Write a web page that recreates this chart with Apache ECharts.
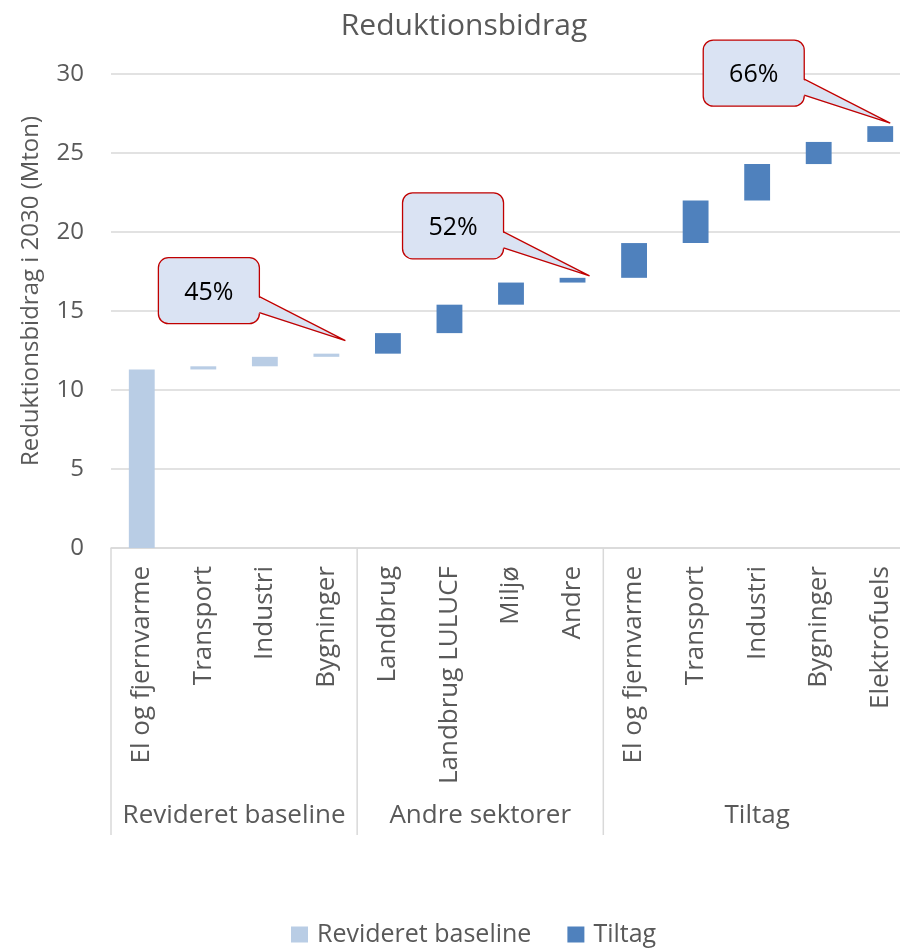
<!DOCTYPE html>
<html>
<head>
<meta charset="utf-8">
<script src="https://cdn.jsdelivr.net/npm/echarts@6/dist/echarts.min.js"></script>
<style>
  html, body { margin: 0; padding: 0; background: #fff; }
  #chart { width: 900px; height: 948px; }
</style>
</head>
<body>
<div id="chart"></div>
<script>
// Waterfall of reduction contributions in 2030 (Mton)
const categories = [
  'El og fjernvarme', 'Transport', 'Industri', 'Bygninger',
  'Landbrug', 'Landbrug LULUCF', 'Miljø', 'Andre',
  'El og fjernvarme', 'Transport', 'Industri', 'Bygninger', 'Elektrofuels'
];
const groupNames = ['Revideret baseline', 'Andre sektorer', 'Tiltag'];
const groupSizes = [4, 4, 5];

// Step sizes per category ('-' = not part of that series)
const baselineSteps = [11.3, 0.2, 0.6, 0.2, '-', '-', '-', '-', '-', '-', '-', '-', '-'];
const tiltagSteps   = ['-', '-', '-', '-', 1.3, 1.8, 1.4, 0.3, 2.2, 2.7, 2.3, 1.4, 1.0];

const yTicks = [0, 5, 10, 15, 20, 25, 30];

// Percent callouts: label and the category whose running total it points at
const calloutLabels = ['45%', '52%', '66%'];
const calloutIndex  = [3, 7, 12];

// Running totals: invisible offset under each floating bar
const offsets = [];
const totals = [];
let run = 0;
for (let i = 0; i < categories.length; i++) {
  offsets.push(run);
  const b = baselineSteps[i] === '-' ? 0 : baselineSteps[i];
  const t = tiltagSteps[i] === '-' ? 0 : tiltagSteps[i];
  run += b + t;
  totals.push(run);
}

const FONT = '"Open Sans", "Noto Sans", sans-serif';
const GREY = '#595959';
const LIGHT = '#b9cde5';
const DARK = '#4f81bd';

const chart = echarts.init(document.getElementById('chart'), null, { renderer: 'canvas' });

const option = {
  animation: false,
  backgroundColor: '#ffffff',
  title: {
    text: 'Reduktionsbidrag',
    left: 459, top: 6, textAlign: 'center',
    textStyle: { fontFamily: FONT, fontSize: 30, fontWeight: 'normal', color: GREY }
  },
  legend: {
    data: ['Revideret baseline', 'Tiltag'],
    left: 286, top: 917,
    itemWidth: 17, itemHeight: 16, itemGap: 36,
    icon: 'rect',
    textStyle: { fontFamily: FONT, fontSize: 25, color: GREY, padding: [0, 0, 0, 4] }
  },
  grid: { left: 111, top: 74, width: 800, height: 474, containLabel: false, outerBoundsMode: 'none' },
  xAxis: {
    type: 'category',
    data: categories,
    axisLine: { show: true, lineStyle: { color: '#d9d9d9', width: 1.5 } },
    axisTick: { show: false },
    axisLabel: {
      rotate: 90, interval: 0, margin: 18,
      fontFamily: FONT, fontSize: 26, color: GREY
    },
    splitLine: { show: false }
  },
  yAxis: {
    type: 'value',
    min: yTicks[0], max: yTicks[yTicks.length - 1], interval: 5,
    axisLine: { show: false },
    axisTick: { show: false },
    axisLabel: { margin: 27, fontFamily: FONT, fontSize: 24, color: GREY },
    splitLine: { lineStyle: { color: '#d9d9d9', width: 1.5 } }
  },
  series: [
    {
      name: 'offset', type: 'bar', stack: 'w', barWidth: '42%',
      itemStyle: { color: 'rgba(0,0,0,0)' },
      emphasis: { disabled: true }, silent: true,
      data: offsets
    },
    {
      name: 'Revideret baseline', type: 'bar', stack: 'w', barWidth: '42%',
      itemStyle: { color: LIGHT },
      data: baselineSteps
    },
    {
      name: 'Tiltag', type: 'bar', stack: 'w', barWidth: '42%',
      itemStyle: { color: DARK },
      data: tiltagSteps
    }
  ]
};

chart.setOption(option);

// Group separators, group labels, axis title and callouts
const graphics = [];
const x0 = chart.convertToPixel({ xAxisIndex: 0 }, 0);
const x1 = chart.convertToPixel({ xAxisIndex: 0 }, 1);
const band = x1 - x0;
const yZero = chart.convertToPixel({ yAxisIndex: 0 }, 0);
const sepBottom = yZero + 287;

let start = 0;
const boundaries = [0];
groupSizes.forEach(n => { start += n; boundaries.push(start); });
boundaries.forEach(b => {
  const x = x0 - band / 2 + b * band;
  graphics.push({
    type: 'line', silent: true,
    shape: { x1: x, y1: yZero, x2: x, y2: sepBottom },
    style: { stroke: '#d9d9d9', lineWidth: 1.5 }
  });
});
groupNames.forEach((name, g) => {
  const cx = x0 - band / 2 + (boundaries[g] + boundaries[g + 1]) / 2 * band;
  graphics.push({
    type: 'text', silent: true,
    x: cx, y: yZero + 268,
    style: { text: name, fontFamily: FONT, fontSize: 26, fill: GREY, align: 'center', verticalAlign: 'middle' }
  });
});

graphics.push({
  type: 'text', silent: true,
  x: 31, y: 291, rotation: Math.PI / 2,
  style: {
    text: 'Reduktionsbidrag i 2030 (Mton)', fontFamily: FONT, fontSize: 24, fill: GREY,
    align: 'center', verticalAlign: 'middle'
  }
});

// Callout geometry relative to the pointer tip
const tipShift = [[19, -13], [17, -2], [10, -3]];
const BOX_W = 101, BOX_H = 66, BOX_DX = -187, BOX_DY = -83;
calloutLabels.forEach((label, k) => {
  const idx = calloutIndex[k];
  const p = chart.convertToPixel({ seriesIndex: 2 }, [idx, totals[idx]]);
  const tip = [p[0] + tipShift[k][0], p[1] + tipShift[k][1]];
  const bx = tip[0] + BOX_DX, by = tip[1] + BOX_DY;
  const right = bx + BOX_W;
  graphics.push({
    type: 'rect', silent: true,
    shape: { x: bx, y: by, width: BOX_W, height: BOX_H, r: 10 },
    style: { fill: '#dae3f3', stroke: '#c00000', lineWidth: 1.3 }
  });
  graphics.push({
    type: 'polygon', silent: true,
    shape: { points: [[right - 2, by + 39], tip, [right - 2, by + 55]] },
    style: { fill: '#dae3f3', stroke: null }
  });
  graphics.push({
    type: 'polyline', silent: true,
    shape: { points: [[right, by + 39], tip, [right, by + 55]] },
    style: { stroke: '#c00000', lineWidth: 1.3, fill: null }
  });
  graphics.push({
    type: 'text', silent: true,
    x: bx + BOX_W / 2, y: by + BOX_H / 2 + 2,
    style: { text: label, fontFamily: FONT, fontSize: 25, fill: '#000000', align: 'center', verticalAlign: 'middle' }
  });
});

chart.setOption({ graphic: graphics });
</script>
</body>
</html>
